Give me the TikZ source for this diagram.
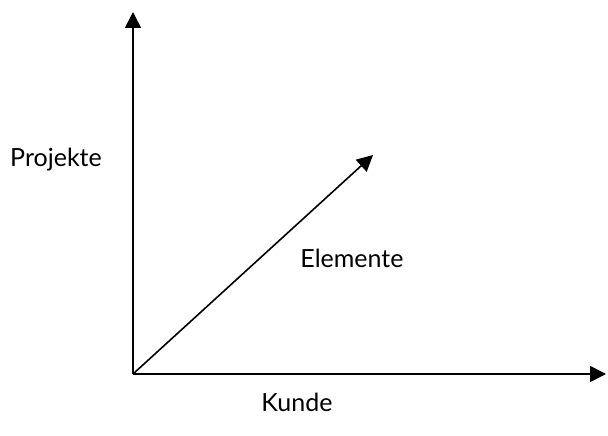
\documentclass[tikz,border=0pt]{standalone}
\usepackage{fontspec}
\setmainfont{Lato}
\usetikzlibrary{arrows.meta}

\begin{document}
\begin{tikzpicture}[
  x=1pt, y=-1pt,
  axis/.style={-{Triangle[length=16pt, width=16pt]}, line width=1.6pt, draw=black},
  lbl/.style={font=\fontsize{25pt}{29pt}\selectfont, inner sep=0pt}
]
\useasboundingbox (0,0) rectangle (608,436);
\coordinate (o) at (133,374);
\coordinate (top) at (133,12);
\coordinate (right) at (606,374);
\coordinate (diag) at (373,155);
\draw[axis] (o) -- (top);
\draw[axis] (o) -- (right);
\draw[axis] (o) -- (diag);
\node[lbl] (proj) at (56,160) {Projekte};
\node[lbl] (elem) at (352,258) {Elemente};
\node[lbl] (kunde) at (297,402) {Kunde};
\end{tikzpicture}
\end{document}
